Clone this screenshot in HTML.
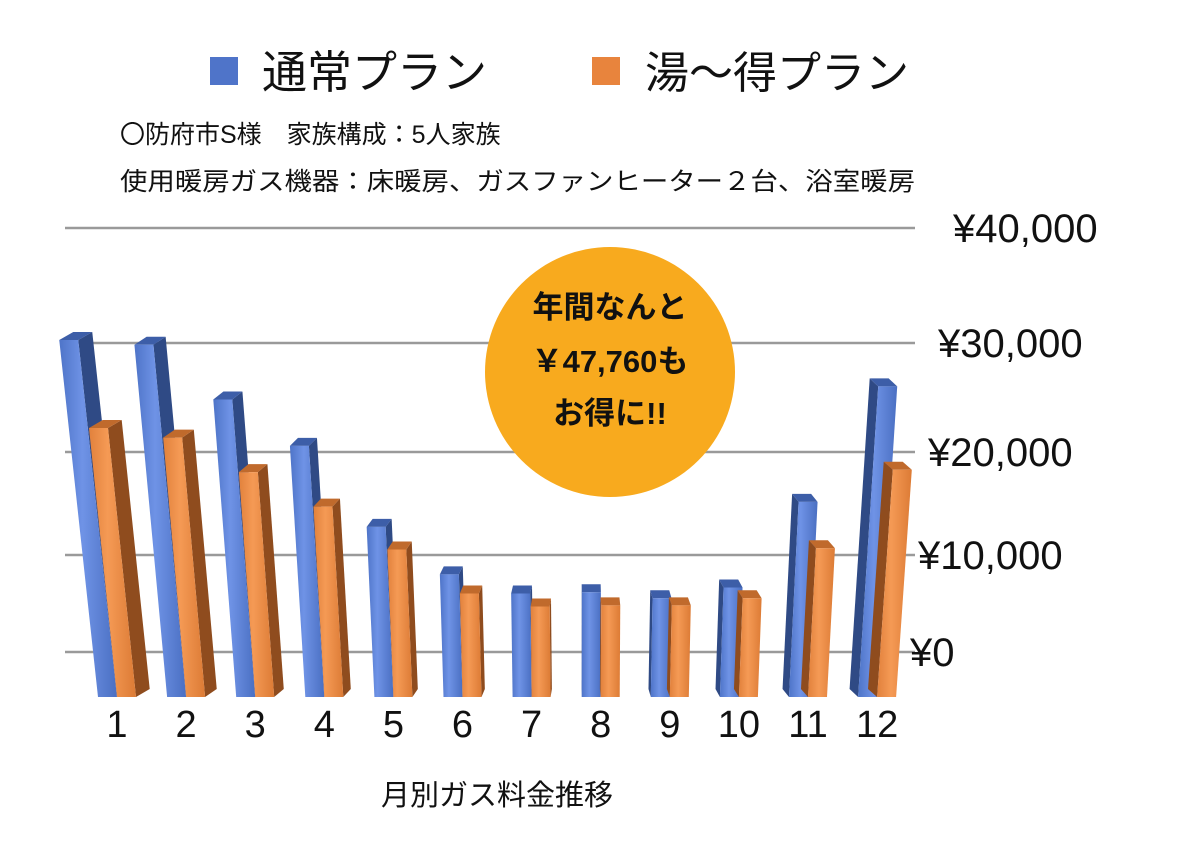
<!DOCTYPE html>
<html><head><meta charset="utf-8"><style>
body{margin:0;background:#fff;}
svg text{font-family:"Liberation Sans","Noto Sans CJK JP",sans-serif;}
</style></head><body>
<svg width="1179" height="860" viewBox="0 0 1179 860">
<defs>
<linearGradient id="gb" x1="0" x2="1"><stop offset="0" stop-color="#4e74c8"/><stop offset="0.4" stop-color="#6f93e6"/><stop offset="1" stop-color="#4a6fc2"/></linearGradient>
<linearGradient id="go" x1="0" x2="1"><stop offset="0" stop-color="#e1813c"/><stop offset="0.4" stop-color="#f59a55"/><stop offset="1" stop-color="#dc7b35"/></linearGradient>
</defs>
<g>
<rect x="210" y="57" width="28" height="28" fill="#4f74c9"/>
<text x="262" y="88" font-size="45" fill="#111">通常プラン</text>
<rect x="592" y="57" width="28" height="28" fill="#e8843d"/>
<text x="645" y="88" font-size="44" fill="#111">湯〜得プラン</text>
</g>
<text x="120" y="143" font-size="25" fill="#111">〇防府市S様　家族構成：5人家族</text>
<text x="120" y="190" font-size="25" fill="#111" textLength="795" lengthAdjust="spacingAndGlyphs">使用暖房ガス機器：床暖房、ガスファンヒーター２台、浴室暖房</text>
<g id="grid"></g>
<g id="yl"></g>
<g id="bars"></g>
<g id="xl"></g>
<g>
<circle cx="610" cy="372" r="125" fill="#f8aa1e"/>
<text x="610" y="318" font-size="31" font-weight="bold" text-anchor="middle" fill="#111">年間なんと</text>
<text x="610" y="372" font-size="31" font-weight="bold" text-anchor="middle" fill="#111">￥47,760も</text>
<text x="610" y="424" font-size="31" font-weight="bold" text-anchor="middle" fill="#111">お得に!!</text>
</g>
<text x="497" y="805" font-size="29" text-anchor="middle" fill="#111">月別ガス料金推移</text>
</svg>
<script>
const months=["1","2","3","4","5","6","7","8","9","10","11","12"];
const normalPlan=[30000,29600,25000,21100,14300,10300,8700,8800,8300,9200,16400,26100];
const yutokuPlan=[22600,21800,18900,16000,12400,8700,7600,7700,7700,8300,12500,19100];
const tickValues=[0,10000,20000,30000,40000];
const tickLabels=["¥0","¥10,000","¥20,000","¥30,000","¥40,000"];
const NS="http://www.w3.org/2000/svg";
function mk(t,a,p){const e=document.createElementNS(NS,t);for(const k in a)e.setAttribute(k,a[k]);p.appendChild(e);return e;}
const backY=[652,555,452,343,228];
function backScale(v){const f=v/10000;const i=Math.min(3,Math.floor(f));return backY[i]+(backY[i+1]-backY[i])*(f-i);}
const labelX=[910,918,928,938,953];
const grid=document.getElementById('grid'),yl=document.getElementById('yl');
tickValues.forEach((v,i)=>{
 const y=backScale(v);
 const l=mk('line',{x1:65,x2:915,y1:y,y2:y,stroke:'#9a9a9a','stroke-width':2.5},grid);
 
 
 const t=mk('text',{x:labelX[i],y:y+14,'font-size':40,fill:'#111'},yl);
 t.textContent=tickLabels[i];
 
 
});
const base=697,k=0.0119,vx=574,a=0.000228;
function fy(v){return base-v*k;}
function center(i){return 117+i*69.1;}
const bars=document.getElementById('bars'),xl=document.getElementById('xl');
function bar(x0,w,v,fill,side,cap,name){
 const h=v*k,yt=fy(v);
 const sh=h*a*(x0-vx);
 const bl=x0,br=x0+w,tl=x0+sh,tr=x0+w+sh;
 const d=Math.max(-14,Math.min(14,0.03*(vx-x0)));const dy=-8;
 const g=mk('g',{},bars);
 
 
 if(d>0){mk('polygon',{points:`${br},${base} ${br+d},${base+dy} ${tr+d},${yt+dy} ${tr},${yt}`,fill:side},g);}
 else{mk('polygon',{points:`${bl},${base} ${bl+d},${base+dy} ${tl+d},${yt+dy} ${tl},${yt}`,fill:side},g);}
 mk('polygon',{points:`${tl},${yt} ${tr},${yt} ${tr+d},${yt+dy} ${tl+d},${yt+dy}`,fill:cap},g);
 mk('polygon',{points:`${bl},${base} ${br},${base} ${tr},${yt} ${tl},${yt}`,fill:fill},g);
}
months.forEach((m,i)=>{
 const c=center(i);
 bar(c-19,19,normalPlan[i],'url(#gb)','#2f4a85','#3d5ea8','bar-normal-'+m);
 bar(c,19,yutokuPlan[i],'url(#go)','#8f4c1e','#c06a2c','bar-yutoku-'+m);
 const t=mk('text',{x:c,y:737,'font-size':38,'text-anchor':'middle',fill:'#111'},xl);
 t.textContent=m;
 
 
});
</script>
</body></html>
